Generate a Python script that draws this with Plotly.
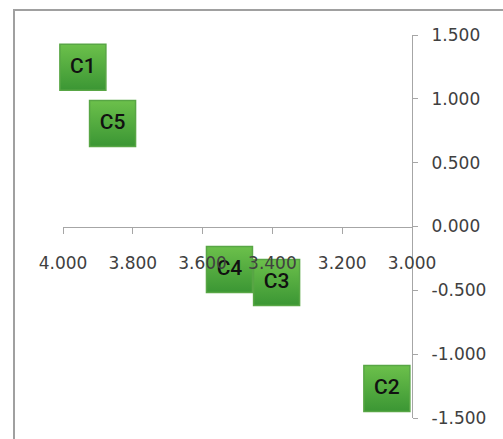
import plotly.graph_objects as go

# Component scores
labels = ["C1", "C2", "C3", "C4", "C5"]
x_vals = [3.943, 3.072, 3.388, 3.523, 3.858]
y_vals = [1.247, -1.269, -0.439, -0.337, 0.807]

x_ticks = [4.0, 3.8, 3.6, 3.4, 3.2, 3.0]
y_ticks = [1.5, 1.0, 0.5, 0.0, -0.5, -1.0, -1.5]

# Tick text with a plain hyphen for negatives
x_text = [f"{v:.3f}" for v in x_ticks]
y_text = [f"{v:.3f}" for v in y_ticks]

axis_color = "#a6a6a6"
tick_font = dict(family="DejaVu Sans", size=17, color="#404040")

fig = go.Figure()
fig.add_trace(go.Scatter(
    x=x_vals, y=y_vals, text=labels,
    mode="markers+text",
    textposition="middle center",
    textfont=dict(family="Roboto", size=21, color="#111111", weight=500),
    marker=dict(
        symbol="square", size=46, color="#6cc04b",
        gradient=dict(type="vertical", color="#3b9634"),
        line=dict(color="#58a645", width=1.5),
    ),
    cliponaxis=False,
    hoverinfo="skip",
    showlegend=False,
))

fig.update_layout(
    width=503, height=439,
    margin=dict(l=63, r=91, t=35, b=21),
    paper_bgcolor="white", plot_bgcolor="white",
    xaxis=dict(
        range=[4.0, 3.0], tickvals=x_ticks, ticktext=x_text,
        showgrid=False, zeroline=False,
        showline=True, linecolor=axis_color, linewidth=1.3,
        ticks="outside", ticklen=6, tickcolor=axis_color, tickwidth=1.3,
        anchor="free", position=0.5, side="bottom",
        ticklabelstandoff=15, tickfont=tick_font,
    ),
    yaxis=dict(
        range=[-1.5, 1.5], tickvals=y_ticks, ticktext=y_text,
        showgrid=False, zeroline=False,
        showline=True, linecolor=axis_color, linewidth=1.3,
        ticks="outside", ticklen=5, tickcolor=axis_color, tickwidth=1.3,
        side="right", ticklabelstandoff=10, tickfont=tick_font,
    ),
    shapes=[dict(
        type="rect", xref="paper", yref="paper",
        x0=-0.1404, x1=1.3, y0=-0.2, y1=1.0653,
        line=dict(color="#a0a0a0", width=2), fillcolor="rgba(0,0,0,0)",
        layer="below",
    )],
)

fig.write_html("out.html")
